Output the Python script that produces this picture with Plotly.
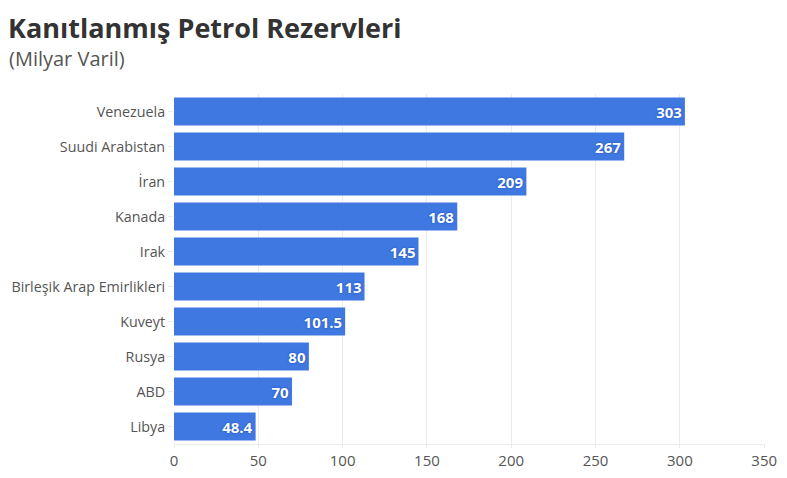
import plotly.graph_objects as go

# Proven oil reserves, billion barrels
countries = ["Venezuela", "Suudi Arabistan", "İran", "Kanada", "Irak",
             "Birleşik Arap Emirlikleri", "Kuveyt", "Rusya", "ABD", "Libya"]
reserves = [303, 267, 209, 168, 145, 113, 101.5, 80, 70, 48.4]
tick_vals = [0, 50, 100, 150, 200, 250, 300, 350]

font_name = "Open Sans"
W, H = 779, 470
L, R, T, B = 166, 22, 86, 34

fig = go.Figure()
fig.add_trace(go.Bar(
    x=reserves,
    y=countries,
    orientation="h",
    marker=dict(color="#3f78e0", line=dict(width=0)),
    text=[str(v) for v in reserves],
    textposition="inside",
    insidetextanchor="end",
    textangle=0,
    textfont=dict(family=font_name, size=15, color="white", weight="bold",
                  shadow="0px 0px 2px #1747b8"),
    cliponaxis=False,
))


def px_to_paper(x, y):
    return (x - L) / (W - L - R), 1 + (T - y) / (H - T - B)


tx, ty = px_to_paper(-1, 0)
sx, sy = px_to_paper(-1, 51)

fig.update_layout(
    width=W, height=H,
    margin=dict(l=L, r=R, t=T, b=B),
    plot_bgcolor="white", paper_bgcolor="white",
    font=dict(family=font_name, color="#555555", size=14),
    bargap=0.2,
    showlegend=False,
    annotations=[
        dict(text="<b>Kanıtlanmış Petrol Rezervleri</b>", x=tx, y=ty,
             xref="paper", yref="paper", xanchor="left", yanchor="top",
             borderpad=0, showarrow=False,
             font=dict(size=27, color="#333333", family=font_name)),
        dict(text="(Milyar Varil)", x=sx, y=sy,
             xref="paper", yref="paper", xanchor="left", yanchor="middle",
             showarrow=False, font=dict(size=20, color="#555555", family=font_name)),
    ],
)

fig.update_xaxes(
    range=[0, 350.5], tickvals=tick_vals, showgrid=True, gridcolor="#ebebeb",
    zeroline=False, showline=True, linecolor="#ebebeb", automargin=False,
    ticks="outside", ticklen=3, tickcolor="#ebebeb",
    tickfont=dict(size=15, color="#555555"),
)
fig.update_yaxes(
    autorange="reversed", showgrid=False, zeroline=False, automargin=False,
    ticks="outside", ticklen=5, tickcolor="#ebebeb",
    tickfont=dict(size=14.3, color="#555555"),
)

fig.write_html("out.html")
